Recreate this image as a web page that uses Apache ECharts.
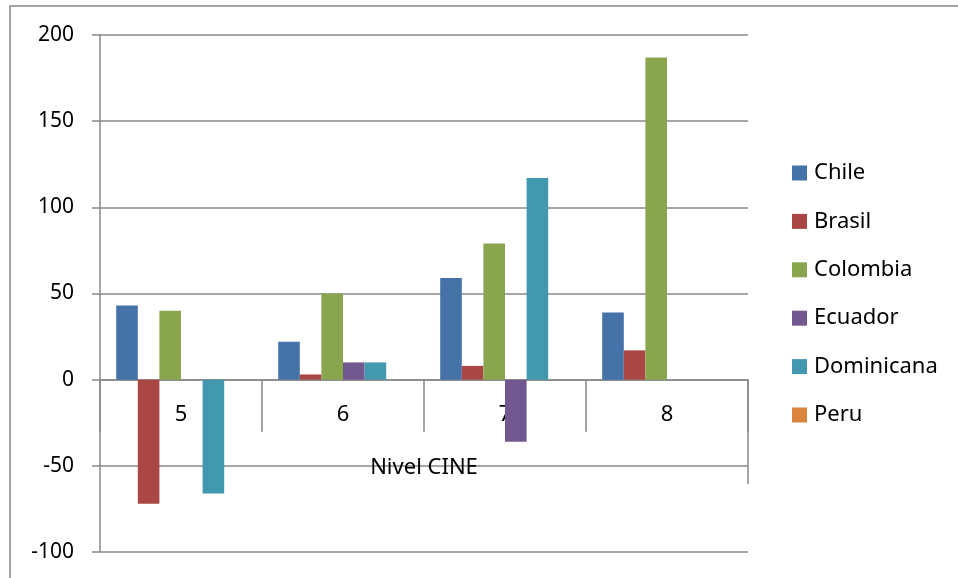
<!DOCTYPE html>
<html>
<head>
<meta charset="utf-8">
<script src="https://cdn.jsdelivr.net/npm/echarts@6/dist/echarts.min.js"></script>
<style>
html,body{margin:0;padding:0;background:#fff;}
#main{width:958px;height:578px;}
</style>
</head>
<body>
<div id="main"></div>
<script>
var categories = ['5', '6', '7', '8'];
var chile = [43, 22, 59, 39];
var brasil = [-72, 3, 8, 17];
var colombia = [40, 50, 79, 187];
var ecuador = [0, 10, -36, 0];
var dominicana = [-66, 10, 117, 0];
var peru = [0, 0, 0, 0];
var yTicks = { min: -100, max: 200, interval: 50 };
var axisTitle = 'Nivel CINE';

var seriesDefs = [
  { name: 'Chile', data: chile, color: '#4572A7' },
  { name: 'Brasil', data: brasil, color: '#AA4643' },
  { name: 'Colombia', data: colombia, color: '#89A54E' },
  { name: 'Ecuador', data: ecuador, color: '#71588F' },
  { name: 'Dominicana', data: dominicana, color: '#4198AF' },
  { name: 'Peru', data: peru, color: '#DB843D' }
];

var gray = '#888888';
var font = 'Noto Sans';
var chart = echarts.init(document.getElementById('main'));

var option = {
  animation: false,
  backgroundColor: '#ffffff',
  textStyle: { fontFamily: font },
  grid: { left: 100, right: 210, top: 35, bottom: 26, containLabel: false, outerBoundsMode: 'none' },
  legend: {
    orient: 'vertical',
    left: 792,
    top: 162,
    padding: 0,
    itemWidth: 15,
    itemHeight: 15,
    itemGap: 26.4,
    icon: 'rect',
    textStyle: { fontFamily: font, fontSize: 22, color: '#000', lineHeight: 22, padding: [0, 0, 0, 2] },
    data: seriesDefs.map(function (s) { return s.name; })
  },
  xAxis: {
    type: 'category',
    data: categories,
    name: axisTitle,
    nameLocation: 'middle',
    nameGap: -95,
    nameTextStyle: { fontFamily: font, fontSize: 22, color: '#000' },
    axisLine: { onZero: true, lineStyle: { color: gray, width: 1.5 } },
    axisTick: { show: true, length: 52, lineStyle: { color: gray, width: 1.5 } },
    axisLabel: { margin: -148, fontFamily: font, fontSize: 22, color: '#000' },
    splitLine: { show: false }
  },
  yAxis: {
    type: 'value',
    min: yTicks.min,
    max: yTicks.max,
    interval: yTicks.interval,
    axisLine: { show: true, lineStyle: { color: gray, width: 1.5 } },
    axisTick: { show: true, length: 8, lineStyle: { color: gray, width: 1.5 } },
    axisLabel: { margin: 26, fontFamily: font, fontSize: 21, color: '#000' },
    splitLine: { show: true, lineStyle: { color: gray, width: 1.5 } }
  },
  series: seriesDefs.map(function (s) {
    return {
      name: s.name,
      type: 'bar',
      data: s.data,
      barGap: '0%',
      barCategoryGap: '20%',
      itemStyle: { color: s.color },
      emphasis: { disabled: true }
    };
  })
};
chart.setOption(option);

// decorative frame and right-edge extension line derived from the axes
var zeroY = chart.convertToPixel({ yAxisIndex: 0 }, 0);
var lowY = chart.convertToPixel({ yAxisIndex: 0 }, -60);
var gridRect = chart.getModel().getComponent('grid', 0).coordinateSystem.getRect();
var rightX = gridRect.x + gridRect.width;
chart.setOption({
  graphic: [
    {
      type: 'rect',
      shape: { x: 10, y: 6, width: 2000, height: 2000 },
      style: { fill: 'none', stroke: gray, lineWidth: 1.5 },
      silent: true, z: -1
    },
    {
      type: 'line',
      shape: { x1: rightX, y1: zeroY, x2: rightX, y2: lowY + 1 },
      style: { stroke: gray, lineWidth: 1.5 },
      silent: true
    }
  ]
});
</script>
</body>
</html>
